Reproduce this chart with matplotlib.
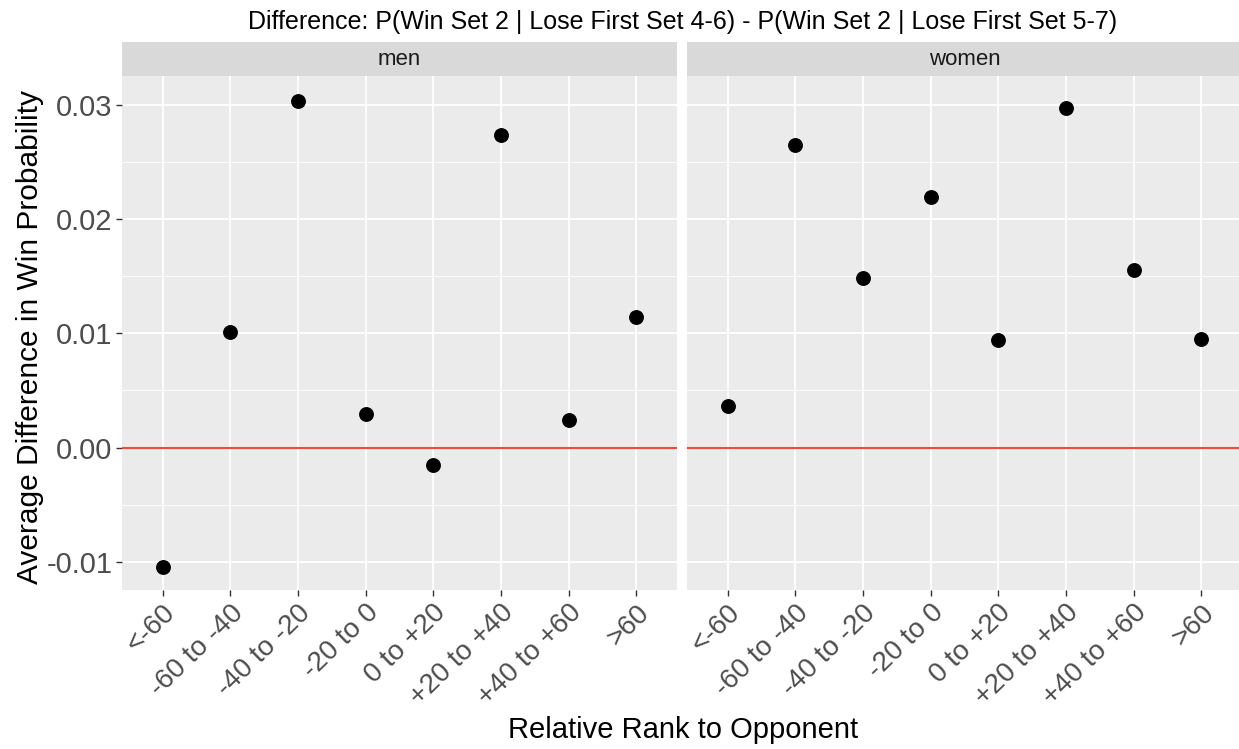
import numpy as np
import matplotlib
matplotlib.use("Agg")
import matplotlib.pyplot as plt
from matplotlib.ticker import MultipleLocator

plt.rcParams['font.family'] = ['Liberation Sans', 'DejaVu Sans']

categories = ['<-60', '-60 to -40', '-40 to -20', '-20 to 0',
              '0 to +20', '+20 to +40', '+40 to +60', '>60']
panels = ['men', 'women']
men_diff = [-0.0104, 0.0101, 0.0303, 0.0029, -0.0015, 0.0273, 0.0024, 0.0114]
women_diff = [0.0036, 0.0265, 0.0148, 0.0219, 0.0094, 0.0297, 0.0155, 0.0095]
series = {'men': men_diff, 'women': women_diff}

W, H = 1239, 749
fig = plt.figure(figsize=(W / 100, H / 100), dpi=100)

top, bottom = 76, 590
strip_h = 34
lefts = [122, 687]
width = 555

x = np.arange(1, len(categories) + 1)
for i, name in enumerate(panels):
    l = lefts[i]
    ax = fig.add_axes([l / W, 1 - bottom / H, width / W, (bottom - top) / H])
    ax.set_facecolor('#EBEBEB')
    for s in ax.spines.values():
        s.set_visible(False)
    ax.set_xlim(0.4, 8.6)
    ax.yaxis.set_major_locator(MultipleLocator(0.01))
    ax.yaxis.set_minor_locator(MultipleLocator(0.005))
    ax.set_xticks(x)
    ax.set_xticklabels(categories, rotation=44, ha='right', va='top',
                       rotation_mode='anchor', fontsize=20, color='#4D4D4D')
    ax.grid(which='major', color='white', linewidth=1.3)
    ax.grid(which='minor', axis='y', color='white', linewidth=0.6)
    ax.set_axisbelow(True)
    ax.tick_params(which='major', length=4, width=1, color='#333333', pad=3)
    ax.tick_params(which='minor', length=0)
    ax.set_ylim(-0.01245, 0.0325)
    if i == 0:
        ticks = [-0.01, 0.0, 0.01, 0.02, 0.03]
        ax.set_yticks(ticks)
        ax.set_yticklabels(['%.2f' % v for v in ticks], fontsize=21, color='#4D4D4D')
        ax.set_ylim(-0.01245, 0.0325)
    else:
        ax.tick_params(axis='y', which='both', left=False, labelleft=False)
    ax.axhline(0, color='#F24B3A', linewidth=1.5, zorder=2)
    ax.scatter(x, series[name], s=115, color='black', zorder=3, linewidths=0)

    sax = fig.add_axes([l / W, 1 - top / H, width / W, strip_h / H])
    sax.set_facecolor('#D9D9D9')
    sax.set_xticks([])
    sax.set_yticks([])
    for s in sax.spines.values():
        s.set_visible(False)
    sax.text(0.5, 0.48, name, ha='center', va='center', fontsize=16, color='#1A1A1A',
             transform=sax.transAxes)

fig.text(683 / W, 1 - 22 / H,
         'Difference: P(Win Set 2 | Lose First Set 4-6) - P(Win Set 2 | Lose First Set 5-7)',
         ha='center', va='center', fontsize=18, color='black')
fig.text(683 / W, 1 - 730 / H, 'Relative Rank to Opponent',
         ha='center', va='center', fontsize=21, color='black')
fig.text(30 / W, 1 - 337 / H, 'Average Difference in Win Probability',
         ha='center', va='center', rotation=90, fontsize=21.5, color='black')

fig.savefig('out.png', dpi=100)
